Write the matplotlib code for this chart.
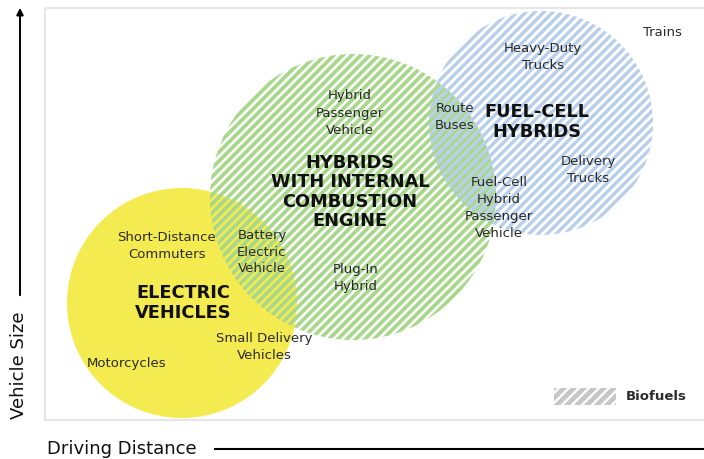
import numpy as np
import matplotlib.pyplot as plt
from matplotlib.patches import Circle, Rectangle

plt.rcParams['font.family'] = ['DejaVu Sans']

# circle groups: name, centre (x, y), radius in picture pixels
group_names = ['ELECTRIC\nVEHICLES', 'HYBRIDS\nWITH INTERNAL\nCOMBUSTION\nENGINE', 'FUEL-CELL\nHYBRIDS']
group_x = [182, 353, 541]
group_y = [303, 197, 123]
group_r = [115, 143, 112]
group_colors = ['#f4eb50', '#a9d78c', '#b8cfeb']
group_hatched = [False, True, True]
stripe_lw = [0, 2.7, 2.4]

# vehicle labels and where they sit
vehicle_labels = ['Trains', 'Heavy-Duty\nTrucks', 'Route\nBuses', 'Hybrid\nPassenger\nVehicle',
                  'Delivery\nTrucks', 'Fuel-Cell\nHybrid\nPassenger\nVehicle',
                  'Short-Distance\nCommuters', 'Battery\nElectric\nVehicle', 'Plug-In\nHybrid',
                  'Small Delivery\nVehicles', 'Motorcycles']
vehicle_x = [662, 543, 455, 350, 588, 499, 167, 262, 356, 264, 127]
vehicle_y = [32, 57, 117, 113, 170, 208, 246, 252, 278, 347, 363]

W, H = 704, 459
fig = plt.figure(figsize=(W / 100, H / 100), dpi=100)
ax = fig.add_axes([0, 0, 1, 1])
ax.set_xlim(0, W)
ax.set_ylim(H, 0)
ax.axis('off')

TXT = '#2a2a2a'


def stripes(ax, patch, color, step=9, lw=2.7):
    # diagonal "/" stripes clipped to a patch
    ax.add_patch(patch)
    x0, y0, x1, y1 = patch.get_extents().transformed(ax.transData.inverted()).extents
    xmin, xmax = min(x0, x1), max(x0, x1)
    ymin, ymax = min(y0, y1), max(y0, y1)
    for c in np.arange(xmin + ymin - 10, xmax + ymax + 10, step):
        ln, = ax.plot([c - ymax - 5, c - ymin + 5], [ymax + 5, ymin - 5],
                      color=color, lw=lw, solid_capstyle='butt', zorder=2)
        ln.set_clip_path(patch)


# frame
ax.add_patch(Rectangle((45, 8), 700, 412, fill=False, ec='#e6e6e6', lw=1.5, zorder=1))

for name, cx, cy, r, col, hat, slw in zip(group_names, group_x, group_y, group_r,
                                          group_colors, group_hatched, stripe_lw):
    if hat:
        stripes(ax, Circle((cx, cy), r, fc='none', ec='none'), col, lw=slw)
    else:
        ax.add_patch(Circle((cx, cy), r, fc=col, ec='none', zorder=1))

# bold group names
name_pos = [(183, 303), (350, 192), (537, 122)]
for name, (x, y) in zip(group_names, name_pos):
    ax.text(x, y, name, ha='center', va='center', ma='center', fontsize=12.8,
            fontweight='bold', color='#111111', linespacing=1.1, zorder=5)

for lab, x, y in zip(vehicle_labels, vehicle_x, vehicle_y):
    ax.text(x, y, lab, ha='center', va='center', ma='center', fontsize=9.5,
            color=TXT, linespacing=1.4, zorder=5)

# legend
stripes(ax, Rectangle((554, 388), 62, 17, fc='none', ec='none'), '#c6c6c6', step=10, lw=3.4)
ax.text(626, 397, 'Biofuels', ha='left', va='center', fontsize=9.5,
        fontweight='semibold', color=TXT)

# axes arrows
ax.annotate('', xy=(20, 5), xytext=(20, 298),
            arrowprops=dict(arrowstyle='-|>', color='black', lw=1.4, mutation_scale=10))
ax.text(19, 365, 'Vehicle Size', rotation=90, ha='center', va='center',
        fontsize=13, color='#111111')
ax.text(47, 449, 'Driving Distance', ha='left', va='center', fontsize=13,
        color='#111111')
ax.plot([215, 704], [449, 449], color='black', lw=1.5)

fig.savefig('out.png', dpi=100)
